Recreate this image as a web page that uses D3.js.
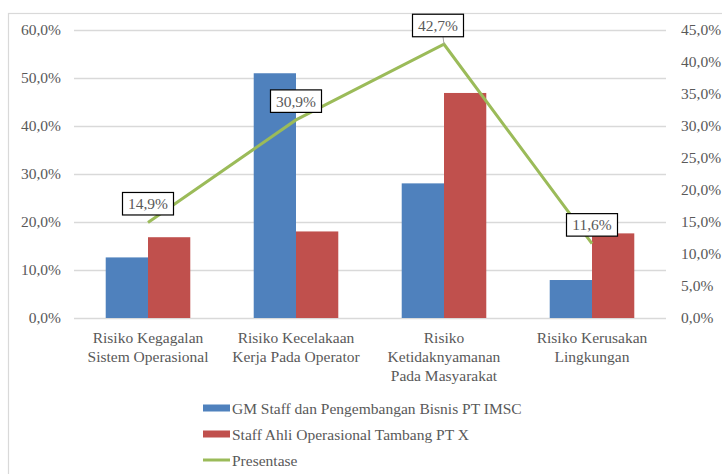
<!DOCTYPE html>
<html><head><meta charset="utf-8">
<script src="https://cdn.jsdelivr.net/npm/d3@7"></script>
<style>body{margin:0;background:#fff;} svg{display:block;}</style>
</head><body>
<svg id="c" width="722" height="474"></svg>
<script>
const categories = [
  ["Risiko Kegagalan","Sistem Operasional"],
  ["Risiko Kecelakaan","Kerja Pada Operator"],
  ["Risiko","Ketidaknyamanan","Pada Masyarakat"],
  ["Risiko Kerusakan","Lingkungan"]
];
const seriesNames = ["GM Staff dan Pengembangan Bisnis PT IMSC","Staff Ahli Operasional Tambang PT X","Presentase"];
const gmValues = [12.6, 50.9, 28.0, 7.9];
const staffValues = [16.8, 18.0, 46.8, 17.6];
const presentase = [14.9, 30.9, 42.7, 11.6];
const leftTicks = [0,10,20,30,40,50,60];
const rightTicks = [0,5,10,15,20,25,30,35,40,45];

(function(){
const colors = ["#4F81BD","#C0504D","#9BBB59"];
const font = "Liberation Serif";
const fs = 15.5;
const textColor = "#595959";
const svg = d3.select("#c");

svg.append("rect").attr("x",8.5).attr("y",13.5).attr("width",760).attr("height",500)
  .attr("fill","#fff").attr("stroke","#D9D9D9").attr("stroke-width",1.2);

const pL = 74, pR = 666, pT = 29.5, pB = 318;
const x = d3.scaleBand().domain(d3.range(categories.length)).range([pL,pR]);
const yL = d3.scaleLinear().domain([0,60]).range([pB,pT]);
const yR = d3.scaleLinear().domain([0,45]).range([pB,pT]);
const fmt = v => d3.format(".1f")(v).replace(".",",") + "%";

svg.append("g").selectAll("line").data(leftTicks).join("line")
  .attr("x1",pL).attr("x2",pR)
  .attr("y1",d=>Math.round(yL(d))+0.5).attr("y2",d=>Math.round(yL(d))+0.5)
  .attr("stroke","#D9D9D9").attr("stroke-width",1.3);

const axL = svg.append("g").attr("transform",`translate(${pL},0)`)
  .call(d3.axisLeft(yL).tickValues(leftTicks).tickFormat(fmt).tickSize(0).tickPadding(13));
axL.select(".domain").remove();
axL.attr("font-family",font).attr("font-size",fs);
axL.selectAll("text").attr("fill",textColor);

const axR = svg.append("g").attr("transform",`translate(${pR},0)`)
  .call(d3.axisRight(yR).tickValues(rightTicks).tickFormat(fmt).tickSize(0).tickPadding(15));
axR.select(".domain").remove();
axR.attr("font-family",font).attr("font-size",fs);
axR.selectAll("text").attr("fill",textColor);

const bw = x.bandwidth();
const barW = bw / (2 + 1.5);
[gmValues, staffValues].forEach((vals,si)=>{
  svg.append("g").selectAll("rect").data(vals).join("rect")
    .attr("x",(d,i)=>x(i) + bw/2 - barW + si*barW)
    .attr("y",d=>yL(d))
    .attr("width",barW)
    .attr("height",d=>yL(0)-yL(d))
    .attr("fill",colors[si]);
});

const cl = svg.append("g");
categories.forEach((lines,i)=>{
  const t = cl.append("text").attr("x",x(i)+bw/2).attr("y",343)
    .attr("text-anchor","middle").attr("font-family",font).attr("font-size",fs).attr("fill",textColor);
  lines.forEach((ln,j)=>t.append("tspan").attr("x",x(i)+bw/2).attr("dy",j?19:0).text(ln));
});

const line = d3.line().x((d,i)=>x(i)+bw/2).y(d=>yR(d));
svg.append("path").datum(presentase).attr("d",line).attr("fill","none")
  .attr("stroke",colors[2]).attr("stroke-width",3).attr("stroke-linejoin","miter");

const labelDx = [0,0,-6,0];
const lg = svg.append("g");
presentase.forEach((v,i)=>{
  const cx = x(i)+bw/2 + labelDx[i], py = yR(v);
  const bwid = 51, bh = 22.5, by = py - 7.5 - bh;
  if (labelDx[i] !== 0) {
    lg.append("line").attr("x1",cx+5).attr("y1",by+bh).attr("x2",x(i)+bw/2).attr("y2",py)
      .attr("stroke","#A6A6A6").attr("stroke-width",1);
  }
  lg.append("rect").attr("x",cx-bwid/2).attr("y",by).attr("width",bwid).attr("height",bh)
    .attr("fill","#fff").attr("stroke","#000").attr("stroke-width",1.2);
  lg.append("text").attr("x",cx).attr("y",by+bh/2+5.5).attr("text-anchor","middle")
    .attr("font-family",font).attr("font-size",fs).attr("fill",textColor).text(fmt(v));
});

const legY = [408, 434, 460];
const leg = svg.append("g");
seriesNames.forEach((n,i)=>{
  if (i<2) {
    leg.append("rect").attr("x",203).attr("y",legY[i]-3.5).attr("width",27).attr("height",7).attr("fill",colors[i]);
  } else {
    leg.append("line").attr("x1",203).attr("x2",230).attr("y1",legY[i]).attr("y2",legY[i])
      .attr("stroke",colors[i]).attr("stroke-width",3);
  }
  leg.append("text").attr("x",232).attr("y",legY[i]+5.5).attr("font-family",font).attr("font-size",fs)
    .attr("fill",textColor).text(n);
});
})();
</script>
</body></html>
